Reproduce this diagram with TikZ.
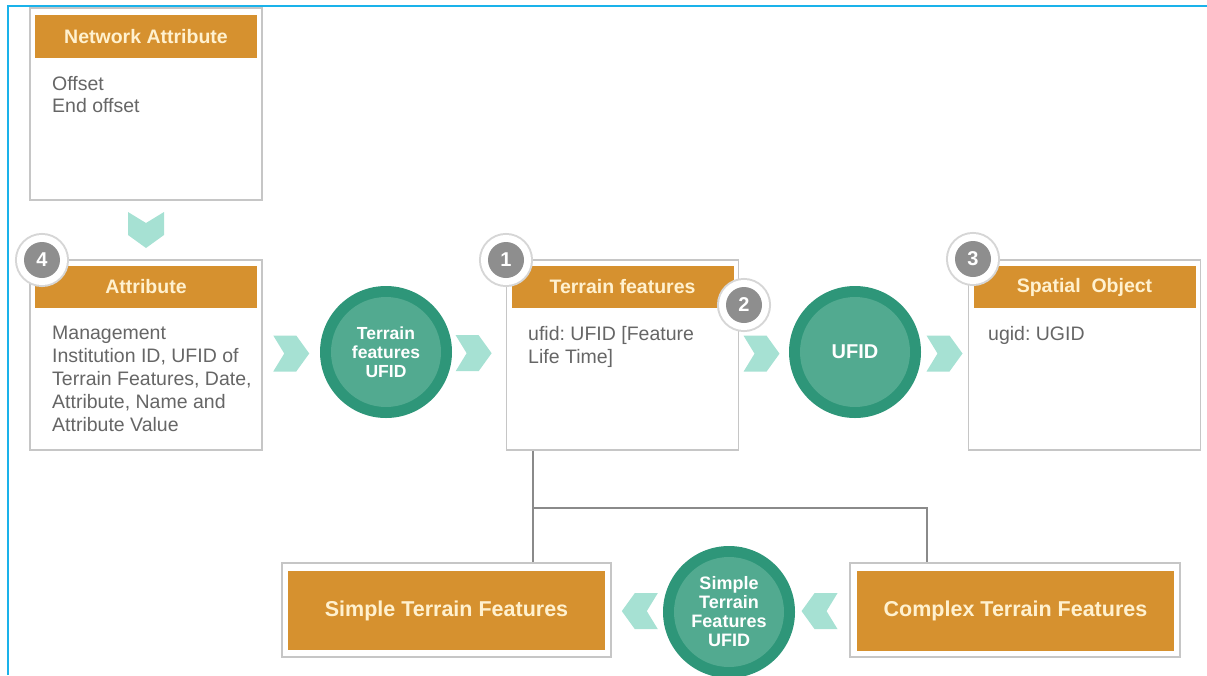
\documentclass[tikz,border=0pt]{standalone}
\usepackage{fontspec}
\setmainfont{Liberation Sans}
\usetikzlibrary{calc}
\frenchspacing

\definecolor{frameblue}{HTML}{1AB2EA}
\definecolor{orangehd}{HTML}{D6912F}
\definecolor{hdtext}{HTML}{FFF1CF}
\definecolor{boxline}{HTML}{C6C6C6}
\definecolor{bodytext}{HTML}{666666}
\definecolor{tealdark}{HTML}{2E9679}
\definecolor{teallight}{HTML}{52AA90}
\definecolor{chevcol}{HTML}{A6E1D3}
\definecolor{badgegrey}{HTML}{8E8E8E}
\definecolor{ringgrey}{HTML}{D6D6D6}
\definecolor{linkgrey}{HTML}{8A8A8A}

\tikzset{
  card/.style={draw=boxline, fill=white, line width=1.4pt, minimum width=232pt,
    minimum height=190pt, inner sep=0pt},
  cardhead/.style={fill=orangehd, text=hdtext, minimum width=222pt, minimum height=42pt,
    inner sep=0pt, font=\bfseries\fontsize{19.5}{22}\selectfont},
  cardbody/.style={anchor=north west, inner sep=0pt, align=left, text=bodytext,
    font=\fontsize{19.5}{23}\selectfont},
  idcircle/.style={circle, fill=tealdark, minimum size=132pt, inner sep=0pt,
    text=white, align=center,
    path picture={\fill[teallight] (path picture bounding box.center) circle (55pt);}},
  badge/.style={circle, fill=badgegrey, text=white, minimum size=36pt, inner sep=0pt,
    font=\bfseries\fontsize{20}{20}\selectfont,
    preaction={draw=ringgrey, line width=18pt},
    preaction={draw=white, line width=14pt}},
  barouter/.style={draw=boxline, fill=white, line width=1.4pt, inner sep=0pt},
  barinner/.style={fill=orangehd, text=hdtext, inner sep=0pt,
    font=\bfseries\fontsize{21.5}{24}\selectfont},
  link/.style={draw=linkgrey, line width=1.2pt},
  chev/.pic={\fill[chevcol] (-18,-18) -- (5,-18) -- (18,0) -- (5,18) -- (-18,18) -- (-7,0) -- cycle;}
}

\begin{document}
\begin{tikzpicture}[x=1pt, y=-1pt]
\useasboundingbox (0,0) rectangle (1207,675);

% frame lines along the top and left edges
\draw[frameblue, line width=2.4pt] (8,675) -- (8,6) -- (1207,6);

% Network Attribute card
\node[card, minimum height=192pt] (na) at (146,104) {};
\node[cardhead, minimum height=43pt] (nahd) at (146,36.5) {Network Attribute};
\node[cardbody, font=\fontsize{19.5}{22}\selectfont] (natx) at (52,76) {Offset\\End offset};

% Attribute card
\node[card] (at) at (146,355) {};
\node[cardhead] (athd) at (146,287) {Attribute};
\node[cardbody] (attx) at (52,326) {Management\\Institution ID, UFID of\\Terrain Features, Date,\\Attribute, Name and\\Attribute Value};

% Terrain features card
\node[card] (tf) at (622.5,355) {};
\node[cardhead] (tfhd) at (622.5,286.5) {Terrain features};
\node[cardbody] (tftx) at (528,326) {ufid: UFID [Feature\\Life Time]};

% Spatial Object card
\node[card] (so) at (1084.5,355) {};
\node[cardhead] (sohd) at (1084.5,287) {Spatial\ \ Object};
\node[cardbody] (sotx) at (988,326) {ugid: UGID};

% identifier circles
\node[idcircle, font=\bfseries\fontsize{17.5}{19}\selectfont] (c1) at (386,352) {Terrain\\features\\UFID};
\node[idcircle, font=\bfseries\fontsize{20}{22}\selectfont] (c2) at (855,352) {UFID};
\node[idcircle, font=\bfseries\fontsize{18}{19}\selectfont] (c3) at (729,612) {Simple\\Terrain\\Features\\UFID};

% bottom bars
\node[barouter, minimum width=329pt, minimum height=94pt] (stf) at (446.5,610) {};
\node[barinner, minimum width=317pt, minimum height=79pt] (stftx) at (446.5,610.5) {Simple Terrain Features};
\node[barouter, minimum width=330pt, minimum height=94pt] (ctf) at (1015,610) {};
\node[barinner, minimum width=317pt, minimum height=80pt] (ctftx) at (1015.5,611) {Complex Terrain Features};

% numbered badges
\node[badge] (b4) at (42,260) {4};
\node[badge] (b1) at (506,260) {1};
\node[badge] (b2) at (744,305) {2};
\node[badge] (b3) at (973,259) {3};

% chevron connectors
\pic[rotate=-90] at ($(na.south)!0.5!(at.north)$) {chev};
\pic at ($(at.east)!0.5!(c1.west)$) {chev};
\pic at ($(c1.east)!0.4!(tf.west)$) {chev};
\pic at ($(tf.east)!0.45!(c2.west)$) {chev};
\pic at ($(c2.east)!0.5!(so.west)$) {chev};
\pic[rotate=180] at ($(stf.east)!0.55!(c3.west)$) {chev};
\pic[rotate=180] at ($(c3.east)!0.45!(ctf.west)$) {chev};

% tree lines from Terrain features to the two kinds
\coordinate (jl) at (533,508);
\coordinate (jr) at (927,508);
\draw[link] (tf.south -| jl) -- (stf.north -| jl);
\draw[link] (jl) -- (jr) -- (ctf.north -| jr);
\end{tikzpicture}
\end{document}
